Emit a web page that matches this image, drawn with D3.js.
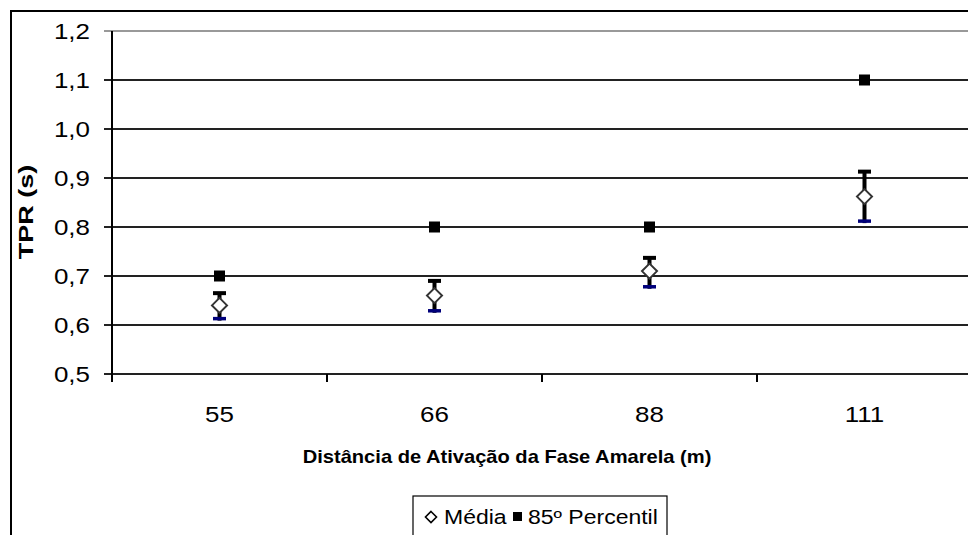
<!DOCTYPE html>
<html><head><meta charset="utf-8">
<script src="https://cdn.jsdelivr.net/npm/d3@7"></script>
<style>body{margin:0;background:#fff;}svg{display:block;font-family:"Liberation Sans",Arial,sans-serif;}</style>
</head><body>
<script>
const categories = ["55", "66", "88", "111"];
const media = [0.64, 0.66, 0.71, 0.862];
const erroSup = [0.665, 0.69, 0.737, 0.913];
const erroInf = [0.613, 0.629, 0.678, 0.812];
const percentil85 = [0.70, 0.80, 0.80, 1.10];
const yTicks = [0.5, 0.6, 0.7, 0.8, 0.9, 1.0, 1.1, 1.2];

(function () {
const W = 968, H = 535, SX = 1.18;
const svg = d3.select("body").append("svg").attr("width", W).attr("height", H);

// outer frame
svg.append("rect").attr("x", 11).attr("y", 11).attr("width", W).attr("height", H)
  .attr("fill", "none").attr("stroke", "#000").attr("stroke-width", 2);

const pL = 112, pR = 972, pT = 31, pB = 374;
const x = d3.scaleBand().domain(categories).range([pL, pR]);
const y = d3.scaleLinear().domain([0.5, 1.2]).range([pB, pT]);
const fmt = d => d.toFixed(1).replace(".", ",");

// gridlines
svg.append("g").selectAll("line").data(yTicks).join("line")
  .attr("x1", pL - 8).attr("x2", W)
  .attr("y1", d => y(d)).attr("y2", d => y(d))
  .attr("stroke", d => d === 1.2 ? "#999" : "#222").attr("stroke-width", 2);

// y tick labels
svg.append("g").selectAll("text").data(yTicks).join("text")
  .attr("transform", d => `translate(90,${y(d) + 8}) scale(${SX},1)`)
  .attr("text-anchor", "end").attr("font-size", 22).attr("fill", "#000")
  .text(fmt);

// y axis line
svg.append("line").attr("x1", pL).attr("x2", pL).attr("y1", pT).attr("y2", pB + 8)
  .attr("stroke", "#000").attr("stroke-width", 2);

// x axis with ticks between categories
const xAxis = d3.axisBottom(x).tickSize(0).tickPadding(0);
const gx = svg.append("g").attr("transform", `translate(0,${pB})`).call(xAxis);
gx.select(".domain").remove();
gx.selectAll("text").attr("font-size", 22).attr("font-family", "Liberation Sans, Arial, sans-serif")
  .attr("fill", "#000").attr("dy", null).attr("y", 48).attr("transform", `scale(${SX},1)`);
svg.append("g").selectAll("line").data(categories.slice(1)).join("line")
  .attr("x1", d => x(d)).attr("x2", d => x(d)).attr("y1", pB).attr("y2", pB + 8)
  .attr("stroke", "#000").attr("stroke-width", 2);

// axis titles
svg.append("text").attr("transform", `translate(507,463) scale(1.15,1)`).attr("text-anchor", "middle")
  .attr("font-size", 17.5).attr("font-weight", "bold").text("Distância de Ativação da Fase Amarela (m)");
svg.append("text").attr("transform", "translate(33,212) rotate(-90) scale(1.35,1)").attr("text-anchor", "middle")
  .attr("font-size", 20).attr("font-weight", "bold").text("TPR (s)");

const cx = d => x(d) + x.bandwidth() / 2;

// 85th percentile squares
svg.append("g").selectAll("rect").data(categories).join("rect")
  .attr("x", d => cx(d) - 5.5).attr("y", (d, i) => y(percentil85[i]) - 5.5)
  .attr("width", 11).attr("height", 11).attr("fill", "#000");

// error bars
const eb = svg.append("g");
eb.selectAll("line.v").data(categories).join("line").attr("class", "v")
  .attr("x1", cx).attr("x2", cx)
  .attr("y1", (d, i) => y(erroSup[i])).attr("y2", (d, i) => y(erroInf[i]) + 2)
  .attr("stroke", "#000").attr("stroke-width", 4);
eb.selectAll("line.t").data(categories).join("line").attr("class", "t")
  .attr("x1", d => cx(d) - 6.5).attr("x2", d => cx(d) + 6.5)
  .attr("y1", (d, i) => y(erroSup[i])).attr("y2", (d, i) => y(erroSup[i]))
  .attr("stroke", "#000").attr("stroke-width", 4);
eb.selectAll("line.b").data(categories).join("line").attr("class", "b")
  .attr("x1", d => cx(d) - 6.5).attr("x2", d => cx(d) + 6.5)
  .attr("y1", (d, i) => y(erroInf[i])).attr("y2", (d, i) => y(erroInf[i]))
  .attr("stroke", "#00007a").attr("stroke-width", 3.5);

// mean diamonds
const diamond = "M0,-7.5L7.5,0L0,7.5L-7.5,0Z";
svg.append("g").selectAll("path").data(categories).join("path")
  .attr("d", diamond)
  .attr("transform", (d, i) => `translate(${cx(d)},${y(media[i])})`)
  .attr("fill", "#fff").attr("stroke", "#333").attr("stroke-width", 2);

// legend
const lg = svg.append("g");
lg.append("rect").attr("x", 413).attr("y", 496).attr("width", 254).attr("height", 50)
  .attr("fill", "#fff").attr("stroke", "#000").attr("stroke-width", 1.2);
lg.append("path").attr("d", "M0,-5.5L5.5,0L0,5.5L-5.5,0Z").attr("transform", "translate(431,517)")
  .attr("fill", "#fff").attr("stroke", "#000").attr("stroke-width", 1.6);
lg.append("text").attr("transform", `translate(444,524) scale(${SX},1)`).attr("font-size", 19.5).text("Média");
lg.append("rect").attr("x", 513).attr("y", 512).attr("width", 9).attr("height", 9).attr("fill", "#000");
lg.append("text").attr("transform", `translate(528,524) scale(${SX},1)`).attr("font-size", 19.5).text("85º Percentil");
})();
</script>
</body></html>
